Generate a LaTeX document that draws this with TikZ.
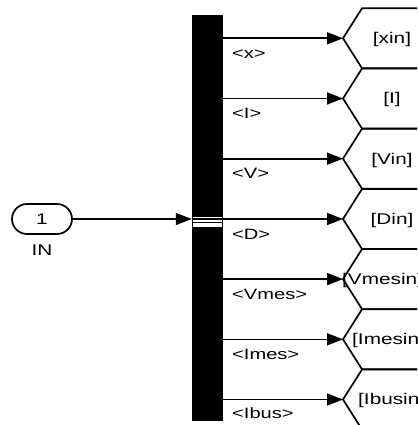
\documentclass[tikz,border=0pt]{standalone}
\usepackage{fontspec}
\setmainfont[FakeStretch=1.34]{Liberation Sans}
\usetikzlibrary{arrows.meta}

\begin{document}
\begin{tikzpicture}[x=1pt,y=-1pt,
  sig/.style={line width=1.6pt,-{Triangle[length=16pt,width=12pt]}},
  gototag/.style={line width=1.7pt},
  tag/.style={anchor=base,inner sep=0pt,font=\fontsize{15.5}{18}\selectfont},
  lbl/.style={anchor=base west,inner sep=0pt,font=\fontsize{15}{18}\selectfont}]
\useasboundingbox (0,0) rectangle (417,425);
\clip (0,0) rectangle (417,425);
% 节点定义
\node[draw,line width=1.7pt,rounded corners=15pt,minimum width=60pt,minimum height=30pt,
  inner sep=0pt,font=\fontsize{15.5}{18}\selectfont] (in) at (42,219) {1};
\node[tag] (inname) at (42,255.5) {IN};
\node[fill=black,minimum width=31pt,minimum height=406pt,inner sep=0pt] (bus) at (207.5,218) {};
\coordinate (g1) at (343,38.3);
\coordinate (g2) at (343,98.5);
\coordinate (g3) at (343,158.7);
\coordinate (g4) at (343,219);
\coordinate (g5) at (343,279.1);
\coordinate (g6) at (343,339.3);
\coordinate (g7) at (343,399.5);
% Goto 外框
\draw[gototag] (440,8.3) -- (362,8.3) -- (g1) -- (362,68.3) -- (440,68.3);
\draw[gototag] (440,68.5) -- (362,68.5) -- (g2) -- (362,128.5) -- (440,128.5);
\draw[gototag] (440,128.7) -- (362,128.7) -- (g3) -- (362,188.7) -- (440,188.7);
\draw[gototag] (440,189) -- (362,189) -- (g4) -- (362,249) -- (440,249);
\draw[gototag] (440,249.1) -- (362,249.1) -- (g5) -- (362,309.1) -- (440,309.1);
\draw[gototag] (440,309.3) -- (362,309.3) -- (g6) -- (362,369.3) -- (440,369.3);
\draw[gototag] (440,369.5) -- (362,369.5) -- (g7) -- (362,429.5) -- (440,429.5);
\node[tag] (txin) at (392,43.7) {[xin]};
\node[tag] (ti) at (392,103.9) {[I]};
\node[tag] (tvin) at (392,164.1) {[Vin]};
\node[tag] (tdin) at (392,224.4) {[Din]};
\node[tag,anchor=base west] (tvmes) at (342,284.5) {[Vmesin]};
\node[tag,anchor=base west] (times) at (352,344.7) {[Imesin]};
\node[tag,anchor=base west] (tibus) at (358,404.9) {[Ibusin]};
% 信号名
\node[lbl] (sx) at (232,58.3) {<x>};
\node[lbl] (si) at (232,118.5) {<I>};
\node[lbl] (sv) at (232,178.7) {<V>};
\node[lbl] (sd) at (232,239) {<D>};
\node[lbl] (svmes) at (232,299.1) {<Vmes>};
\node[lbl] (simes) at (232,359.3) {<Imes>};
\node[lbl] (sibus) at (232,418.5) {<Ibus>};
% 连线
\draw[sig] (in.east) -- (bus.west |- in.east);
\fill[white] (192.5,217) rectangle (221.5,226.5);
\draw[line width=1.3pt] (192.5,219) -- (221.5,219);
\draw[line width=1pt] (192.5,222.8) -- (221.5,222.8);
\draw[sig] (bus.east |- g1) -- (g1);
\draw[sig] (bus.east |- g2) -- (g2);
\draw[sig] (bus.east |- g3) -- (g3);
\draw[sig] (bus.east |- g4) -- (g4);
\draw[sig] (bus.east |- g5) -- (g5);
\draw[sig] (bus.east |- g6) -- (g6);
\draw[sig] (bus.east |- g7) -- (g7);
\end{tikzpicture}
\end{document}
